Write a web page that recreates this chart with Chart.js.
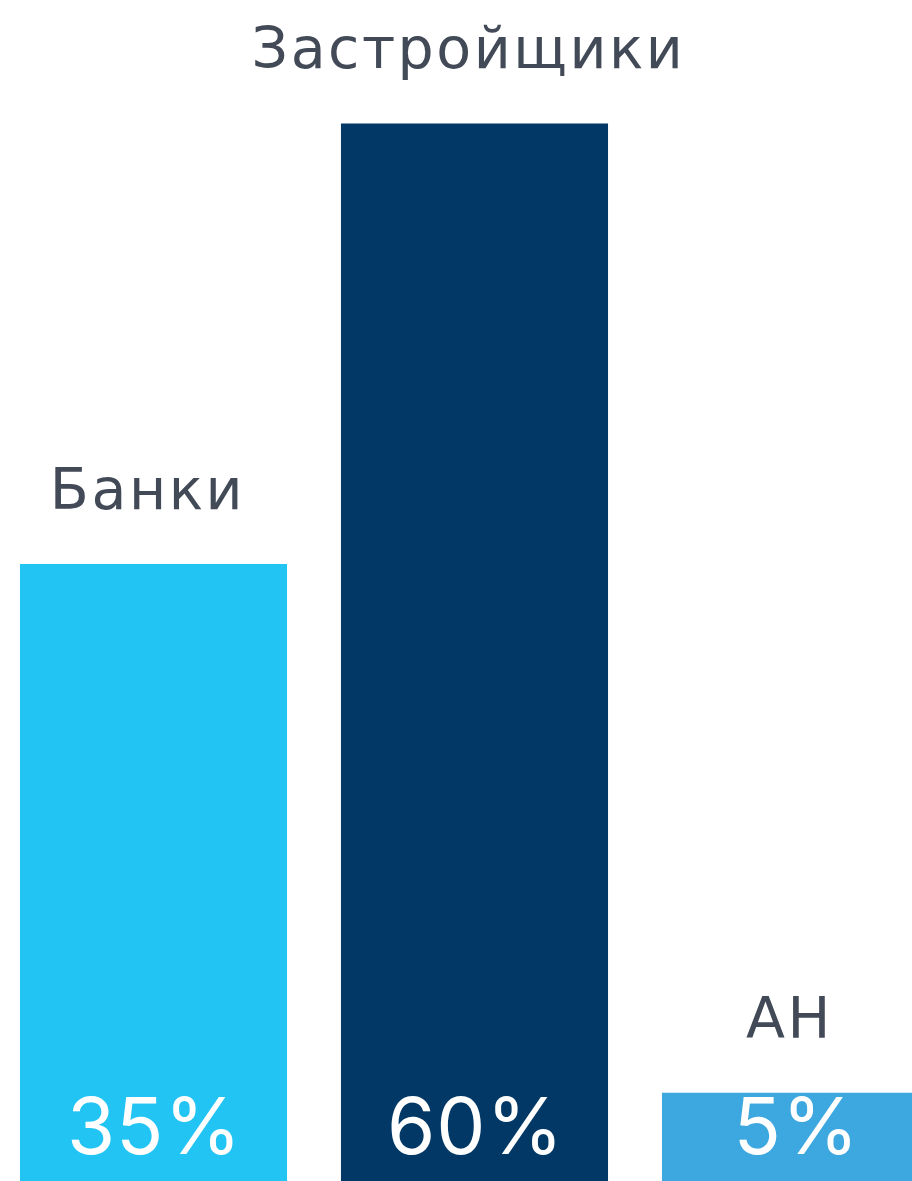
<!DOCTYPE html>
<html>
<head>
<meta charset="utf-8">
<script src="https://cdn.jsdelivr.net/npm/chart.js@4"></script>
<style>
    html, body {
        margin: 0;
        padding: 0;
        background: #ffffff;
        overflow: hidden;
        width: 912px;
        height: 1181px;
    }
    #wrap {
        position: absolute;
        left: -7px;
        top: 0;
        width: 963px;
        height: 1181px;
    }
</style>
</head>
<body>
<div id="wrap">
    <canvas id="shareChart" width="963" height="1181"></canvas>
</div>
<script>
const categories = ["Банки", "Застройщики", "АН"];
const shareValues = [35, 60, 5];
const valueLabels = ["35%", "60%", "5%"];
const barColors = ["#22c4f4", "#023865", "#3da8df"];

const barLabelsPlugin = {
    id: "barLabels",
    afterDatasetsDraw(chart) {
        const ctx = chart.ctx;
        const bars = chart.getDatasetMeta(0).data;

        ctx.save();
        ctx.textAlign = "center";
        ctx.textBaseline = "alphabetic";

        bars.forEach((bar, index) => {
            // category name sits above the bar
            ctx.fillStyle = "#434a57";
            ctx.font = "400 57px 'DejaVu Sans', sans-serif";
            ctx.letterSpacing = "2.5px";
            ctx.fillText(categories[index], bar.x - 6, bar.y - 55);

            // percentage inside the bar near the bottom
            ctx.fillStyle = "#ffffff";
            ctx.font = "400 78px Inter, sans-serif";
            ctx.letterSpacing = "1px";
            ctx.fillText(valueLabels[index], bar.x + 1, chart.chartArea.bottom - 27);
        });

        ctx.restore();
    },
};

new Chart(document.getElementById("shareChart"), {
    type: "bar",
    data: {
        labels: categories,
        datasets: [
            {
                data: shareValues,
                backgroundColor: barColors,
                borderWidth: 0,
                categoryPercentage: 1,
                barPercentage: 0.832,
            },
        ],
    },
    options: {
        responsive: false,
        animation: false,
        layout: {
            padding: 0,
        },
        plugins: {
            legend: { display: false },
            tooltip: { enabled: false },
        },
        scales: {
            x: { display: false },
            y: {
                display: false,
                min: 0,
                max: 67,
            },
        },
    },
    plugins: [barLabelsPlugin],
});
</script>
</body>
</html>
